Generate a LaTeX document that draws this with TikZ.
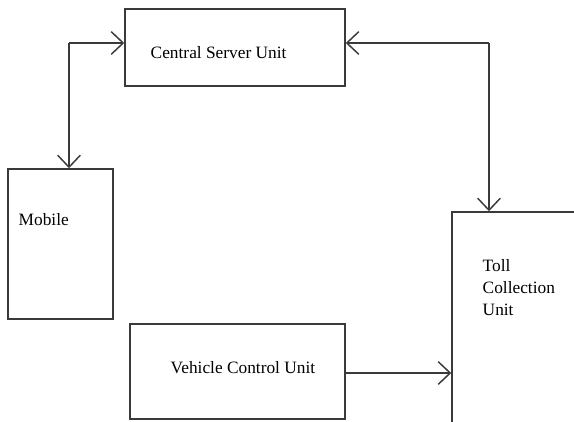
\documentclass[tikz,border=0pt]{standalone}
\usepackage{fontspec}
\setmainfont{Liberation Serif}
\usetikzlibrary{arrows.meta}
\usetikzlibrary{positioning}
\definecolor{linegray}{HTML}{3A3A3A}

\begin{document}
\begin{tikzpicture}[x=0.75pt,y=-0.75pt,
			>={Straight Barb[length=9pt,width=17pt]},
			semithick,line width=1.1pt,
			unit/.style={draw=linegray,rectangle,inner sep=0pt},
			caption/.style={anchor=west,inner sep=0pt,font=\fontsize{13pt}{16.5pt}\selectfont,align=left},
			link/.style={draw=linegray,line width=1.1pt}]
			\useasboundingbox (0,0) rectangle (574,421);
			\clip (0,0) rectangle (574,421);
			
			\node[unit, minimum width=165pt, minimum height=57.75pt] (server) at (235,47.5)  {};
			\node[unit, minimum width=78.75pt, minimum height=112.5pt] (mobile) at (60.5,244) {};
			\node[unit, minimum width=161.25pt, minimum height=71.25pt] (vcu) at (237.5,371.5) {};
			\node[unit, minimum width=111pt, minimum height=178.5pt] (toll) at (526,331) {};
			
			\node[caption] (server text) at (150,53)  {Central Server Unit};
			\node[caption] (mobile text) at (18,220)  {Mobile};
			\node[caption] (vcu text)    at (170,368) {Vehicle Control Unit};
			\node[caption] (toll text)   at (482,288) {Toll\\Collection\\Unit};
			
			\coordinate (bendA) at (69,43);
			\coordinate (bendB) at (489,43);
			
			\path[link]
			(bendA -| server.west) edge [<-] (bendA)
			(bendA) edge [->] (bendA |- mobile.north)
			(bendB -| server.east) edge [<-] (bendB)
			(bendB) edge [->] (bendB |- toll.north)
			(vcu.east |- 0,373) edge [->] (toll.west |- 0,373)
			;
\end{tikzpicture}
\end{document}
